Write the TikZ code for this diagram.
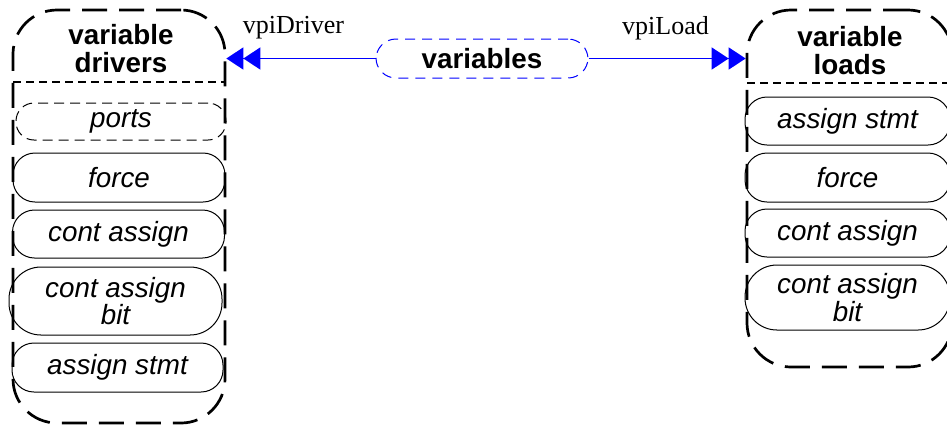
\documentclass[tikz,border=0pt]{standalone}
\usepackage{fontspec}
\setmainfont{Liberation Serif}
\setsansfont{Liberation Sans}
\usepackage{xcolor}
\usepackage{tikz}
\usetikzlibrary{arrows.meta,fit}
\definecolor{vblue}{HTML}{0000FF}
\tikzset{grp/.style={draw,line width=1.35pt,dash pattern=on 12.5pt off 6pt,rounded corners=22pt,inner sep=0pt}}
\tikzset{it/.style={draw,line width=0.5pt,rounded corners=11pt,inner sep=0pt,font=\sffamily\itshape\fontsize{13.9}{13.6}\selectfont,align=center,minimum width=106pt,minimum height=24.5pt}}
\tikzset{hd/.style={font=\sffamily\bfseries\fontsize{13.9}{14}\selectfont,align=center}}
\tikzset{sep/.style={line width=0.75pt,dash pattern=on 4pt off 2.5pt}}
\tikzset{rel/.style={draw=vblue,line width=0.75pt,-{Triangle[length=8.5pt,width=11pt]Triangle[length=8.5pt,width=11pt]}}}
\tikzset{lb/.style={font=\fontsize{13}{14}\selectfont,inner sep=0pt}}
\begin{document}
\begin{tikzpicture}[x=0.5pt,y=-0.5pt]
\useasboundingbox (0,0) rectangle (947,425);
% containers
\node[grp,fit={(13,10) (225,423)}] (drv) {};
\node[grp,fit={(747,10) (952,367)}] (ld) {};
\draw[sep] (13,82) -- (225,82); \draw[sep] (747,83) -- (952,83);
\node[hd] (drvhd) at (121,49) {variable\\drivers};
\node[hd] (ldhd) at (850,51) {variable\\loads};
% driver items
\node[it,dash pattern=on 5pt off 3pt,minimum height=18.5pt,minimum width=105pt,rounded corners=9pt] (dports) at (121,121.5) {ports};
\node[it] (dforce) at (119,177.5) {force};
\node[it,minimum height=24pt] (dcont) at (118.5,234) {cont assign};
\node[it,minimum height=34pt,minimum width=106.5pt,rounded corners=16pt] (dbit) at (115.5,301) {cont assign\\bit};
\node[it,minimum width=105.5pt] (dstmt) at (117.5,367.5) {assign stmt};
% load items
\node[it,minimum width=102.5pt,minimum height=24pt] (lstmt) at (847.5,121) {assign stmt};
\node[it,minimum width=102.5pt] (lforce) at (847.5,177.5) {force};
\node[it,minimum width=102.5pt,minimum height=24pt] (lcont) at (847.5,233) {cont assign};
\node[it,minimum width=102.5pt,minimum height=32.5pt,rounded corners=16pt] (lbit) at (847.5,297.5) {cont assign\\bit};
% variables and relations
\node[hd,draw=vblue,line width=0.5pt,dash pattern=on 5pt off 3.5pt,rounded corners=10pt,minimum width=106pt,minimum height=19.5pt,inner sep=0pt] (vars) at (482,58.5) {variables};
\draw[rel] (vars.west) -- (vars.west -| drv.east) node[lb,pos=0.55,yshift=15.5pt] {vpiDriver};
\draw[rel] (vars.east) -- (vars.east -| ld.west) node[lb,pos=0.49,yshift=15pt] {vpiLoad};
\end{tikzpicture}
\end{document}
